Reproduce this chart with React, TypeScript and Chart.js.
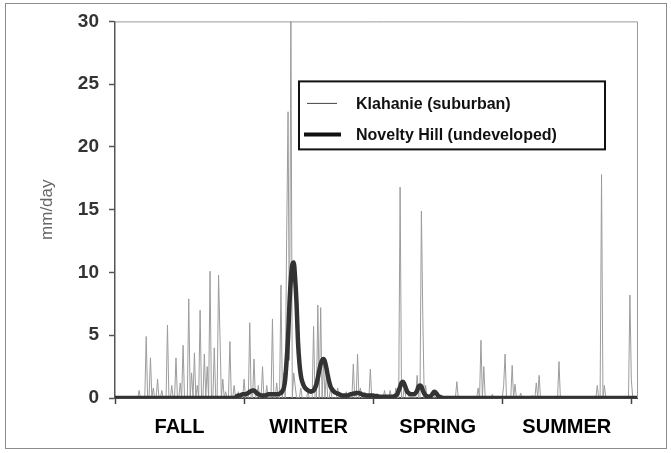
import React, { useEffect, useRef } from 'react';
import { Chart, registerables } from 'chart.js';

Chart.register(...registerables);

// ---- data -------------------------------------------------------------
const SEASONS = ['FALL', 'WINTER', 'SPRING', 'SUMMER'];
const QUARTER_DAYS = 91;
const X_MAX = 368;
const Y_MAX = 30;
const Y_STEP = 5;
const SERIES_NAMES = ['Klahanie (suburban)', 'Novelty Hill (undeveloped)'];

// daily runoff, mm/day (day 0 = start of fall)
const KLAHANIE = [
  0, 0, 0, 0, 0, 0, 0, 0, 0, 0,
  0, 0, 0, 0, 0, 0, 0, 0.6, 0, 0,
  0, 0, 4.9, 0, 0, 3.2, 0, 0.8, 0, 0,
  1.5, 0, 0, 0.6, 0, 0, 0, 5.8, 0, 0,
  1.0, 0, 0, 3.2, 0, 0, 1.2, 0, 4.2, 0,
  0, 0, 7.9, 0, 2.0, 0, 3.6, 0, 1.0, 0,
  7.0, 0, 0, 3.5, 0, 2.5, 0, 10.1, 0, 0,
  4.0, 0, 0, 9.8, 5.0, 0, 1.5, 0, 0.5, 0,
  0, 4.5, 0, 0, 1.0, 0, 0, 0.5, 0, 0,
  0, 1.5, 0, 0.4, 0, 6.0, 0, 0, 3.1, 0,
  0, 1.0, 0, 0, 2.5, 0, 0, 1.0, 0, 0,
  0, 6.3, 0, 0, 1.2, 0, 0, 9.0, 0, 2.0,
  0, 12.6, 22.8, 3.0, 31, 0, 2.0, 1.0, 0, 0,
  0, 0.8, 0, 0, 0, 0, 0.5, 0, 0, 0,
  5.7, 0, 0, 7.4, 0, 7.2, 0, 3.0, 0, 2.0,
  0, 0, 0.8, 0, 0, 0, 0, 0.8, 0, 0,
  0, 0, 0, 0.5, 0, 0, 0, 0, 2.7, 0,
  0, 3.5, 0, 0.8, 0, 0, 0, 0, 0, 0,
  2.3, 0, 0, 0, 0, 0, 0, 0, 0, 0,
  0.6, 0, 0, 0, 0.6, 0, 0, 0, 0.8, 0,
  0, 16.8, 0, 0, 1.0, 0, 0, 0, 0, 0,
  0, 0, 0, 1.8, 0, 0, 14.9, 6.5, 0, 1.0,
  0, 0, 0, 0, 0, 0, 0.5, 0, 0, 0,
  0, 0, 0, 0, 0, 0, 0, 0, 0, 0,
  0, 1.3, 0, 0, 0, 0, 0, 0, 0, 0,
  0, 0, 0, 0, 0, 0, 0.8, 0, 4.6, 0,
  2.5, 0, 0, 0, 0, 0, 0.3, 0, 0, 0,
  0, 0, 0, 0, 1.0, 3.5, 0, 0, 0, 0,
  2.6, 0, 1.1, 0, 0, 0, 0.4, 0, 0, 0,
  0, 0, 0, 0, 0.2, 0, 0, 1.2, 0, 1.8,
  0, 0, 0, 0, 0, 0, 0, 0, 0, 0,
  0, 0, 0, 2.9, 0, 0, 0, 0, 0, 0,
  0, 0, 0, 0, 0, 0, 0, 0, 0, 0,
  0, 0, 0, 0, 0, 0, 0, 0, 0, 0,
  1.0, 0, 0, 17.8, 0, 1.0, 0, 0, 0, 0,
  0, 0, 0, 0, 0, 0, 0, 0, 0, 0,
  0, 0, 0, 8.2, 1.5, 0, 0, 0, 0,
];

const NOVELTY_HILL = [
  0, 0, 0, 0, 0, 0, 0, 0, 0, 0,
  0, 0, 0, 0, 0, 0, 0, 0, 0, 0,
  0, 0, 0, 0, 0, 0, 0, 0, 0, 0,
  0, 0, 0, 0, 0, 0, 0, 0, 0, 0,
  0, 0, 0, 0, 0, 0, 0, 0, 0, 0,
  0, 0, 0, 0, 0, 0, 0, 0, 0, 0,
  0, 0, 0, 0, 0, 0, 0, 0, 0, 0,
  0, 0, 0, 0, 0, 0, 0, 0, 0, 0,
  0, 0, 0, 0, 0, 0.05, 0.15, 0.2, 0.2, 0.25,
  0.3, 0.3, 0.3, 0.35, 0.4, 0.5, 0.55, 0.6, 0.6, 0.5,
  0.4, 0.3, 0.25, 0.2, 0.2, 0.2, 0.2, 0.25, 0.3, 0.3,
  0.3, 0.3, 0.3, 0.3, 0.3, 0.3, 0.35, 0.4, 0.55, 0.8,
  1.5, 3.0, 4.8, 7.5, 9.5, 10.6, 10.8, 9.5, 7.5, 4.5,
  2.8, 1.8, 1.3, 1.0, 0.8, 0.7, 0.6, 0.55, 0.5, 0.55,
  0.6, 0.8, 1.1, 1.6, 2.2, 2.7, 3.0, 3.1, 2.9, 2.4,
  1.8, 1.3, 0.9, 0.7, 0.55, 0.45, 0.4, 0.35, 0.3, 0.25,
  0.2, 0.2, 0.2, 0.2, 0.2, 0.25, 0.3, 0.3, 0.35, 0.35,
  0.4, 0.4, 0.4, 0.35, 0.3, 0.25, 0.25, 0.2, 0.2, 0.2,
  0.2, 0.2, 0.2, 0.15, 0.15, 0.15, 0.1, 0.1, 0.1, 0.1,
  0.1, 0.1, 0.1, 0.1, 0.1, 0.1, 0.1, 0.15, 0.2, 0.3,
  0.6, 0.9, 1.2, 1.3, 1.1, 0.8, 0.5, 0.4, 0.3, 0.3,
  0.3, 0.3, 0.4, 0.6, 0.9, 1.0, 0.9, 0.6, 0.35, 0.2,
  0.15, 0.1, 0.1, 0.2, 0.35, 0.5, 0.45, 0.3, 0.15, 0.1,
  0.05, 0, 0, 0, 0, 0, 0, 0, 0, 0,
  0, 0, 0, 0, 0, 0, 0, 0, 0, 0,
  0, 0, 0, 0, 0, 0, 0, 0, 0, 0,
  0, 0, 0, 0, 0, 0, 0, 0, 0, 0,
  0, 0, 0, 0, 0, 0, 0, 0, 0, 0,
  0, 0, 0, 0, 0, 0, 0, 0, 0, 0,
  0, 0, 0, 0, 0, 0, 0, 0, 0, 0,
  0, 0, 0, 0, 0, 0, 0, 0, 0, 0,
  0, 0, 0, 0, 0, 0, 0, 0, 0, 0,
  0, 0, 0, 0, 0, 0, 0, 0, 0, 0,
  0, 0, 0, 0, 0, 0, 0, 0, 0, 0,
  0, 0, 0, 0, 0, 0, 0, 0, 0, 0,
  0, 0, 0, 0, 0, 0, 0, 0, 0, 0,
  0, 0, 0, 0, 0, 0, 0, 0, 0,
];

// ---- styles -------------------------------------------------------------
const FONT = '"Liberation Sans", Arial, Helvetica, sans-serif';
const KLAHANIE_COLOR = '#9c9c9c';
const NOVELTY_COLOR = '#333333';

const toPoints = (arr: number[]) => arr.map((v, i) => ({ x: i, y: v }));

const framePlugin = {
  id: 'frameAndLegend',
  beforeDraw(chart: any) {
    const ctx = chart.ctx;
    ctx.save();
    ctx.fillStyle = '#ffffff';
    ctx.fillRect(0, 0, chart.width, chart.height);
    ctx.strokeStyle = '#8c8c8c';
    ctx.lineWidth = 1;
    ctx.strokeRect(5.5, 3.5, chart.width - 10, chart.height - 8);
    ctx.restore();
  },
  afterDatasetsDraw(chart: any) {
    const { ctx, chartArea: a } = chart;
    ctx.save();
    // top and right plot border
    ctx.strokeStyle = '#9a9a9a';
    ctx.lineWidth = 1;
    ctx.beginPath();
    ctx.moveTo(a.left, a.top + 0.5);
    ctx.lineTo(a.right + 0.5, a.top + 0.5);
    ctx.lineTo(a.right + 0.5, a.bottom);
    ctx.stroke();

    // legend box
    const bx = a.left + 184;
    const by = a.top + 60;
    const bw = 306;
    const bh = 68;
    ctx.fillStyle = '#ffffff';
    ctx.fillRect(bx, by, bw, bh);
    ctx.strokeStyle = '#111111';
    ctx.lineWidth = 2;
    ctx.strokeRect(bx, by, bw, bh);

    const rows = [
      { y: by + 22, x0: bx + 8, x1: bx + 38, w: 1, c: '#444444' },
      { y: by + 53, x0: bx + 5, x1: bx + 42, w: 4, c: '#111111' },
    ];
    rows.forEach((r, i) => {
      ctx.strokeStyle = r.c;
      ctx.lineWidth = r.w;
      ctx.beginPath();
      ctx.moveTo(r.x0, r.y);
      ctx.lineTo(r.x1, r.y);
      ctx.stroke();
      ctx.fillStyle = '#111111';
      ctx.font = `bold 16px ${FONT}`;
      ctx.textBaseline = 'middle';
      ctx.textAlign = 'left';
      ctx.fillText(chart.data.datasets[i].label, bx + 57, r.y + 1);
    });
    ctx.restore();
  },
};

export default function App() {
  const ref = useRef<HTMLCanvasElement | null>(null);

  useEffect(() => {
    if (!ref.current) return;
    const xTicks: number[] = [];
    for (let q = 0; q < SEASONS.length; q++) {
      xTicks.push(q * QUARTER_DAYS, q * QUARTER_DAYS + QUARTER_DAYS / 2);
    }
    xTicks.push(SEASONS.length * QUARTER_DAYS);

    const chart = new Chart(ref.current, {
      type: 'line',
      data: {
        datasets: [
          {
            label: SERIES_NAMES[0],
            data: toPoints(KLAHANIE),
            borderColor: KLAHANIE_COLOR,
            borderWidth: 1,
            pointRadius: 0,
            tension: 0,
            fill: false,
            order: 2,
          },
          {
            label: SERIES_NAMES[1],
            data: toPoints(NOVELTY_HILL),
            borderColor: NOVELTY_COLOR,
            borderWidth: 4.5,
            pointRadius: 0,
            cubicInterpolationMode: 'monotone',
            fill: false,
            order: 1,
          },
        ],
      },
      options: {
        responsive: false,
        animation: false,
        devicePixelRatio: 1,
        layout: { padding: { left: 0, right: 34, top: 20, bottom: 0 } },
        plugins: {
          legend: { display: false },
          tooltip: { enabled: false },
        },
        scales: {
          x: {
            type: 'linear',
            min: 0,
            max: X_MAX,
            afterBuildTicks: (scale: any) => {
              scale.ticks = xTicks.map((v) => ({ value: v }));
            },
            afterFit: (scale: any) => {
              scale.height = 55;
            },
            grid: {
              drawOnChartArea: false,
              drawTicks: true,
              tickLength: 6,
              tickColor: (ctx: any) =>
                ctx.tick && ctx.tick.value % QUARTER_DAYS === 0 ? '#444444' : 'rgba(0,0,0,0)',
              tickWidth: 1.5,
            },
            border: { display: true, color: '#444444', width: 2 },
            ticks: {
              autoSkip: false,
              maxRotation: 0,
              padding: 11,
              color: '#000000',
              font: { family: FONT, size: 20, weight: 'bold' },
              callback: (value: any) => {
                const v = Number(value);
                if (v % QUARTER_DAYS === 0) return '';
                return SEASONS[Math.floor(v / QUARTER_DAYS)] ?? '';
              },
            },
          },
          y: {
            min: 0,
            max: Y_MAX,
            afterFit: (scale: any) => {
              scale.width = 115;
            },
            grid: {
              drawOnChartArea: false,
              drawTicks: true,
              tickLength: 6,
              tickColor: '#555555',
              tickWidth: 1.5,
            },
            border: { display: true, color: '#555555', width: 1.5 },
            ticks: {
              stepSize: Y_STEP,
              padding: 10,
              color: '#333333',
              font: { family: FONT, size: 19, weight: 'bold' },
            },
            title: {
              display: true,
              text: 'mm/day',
              color: '#666666',
              font: { family: FONT, size: 17, weight: 'normal' },
              padding: { top: 37, bottom: 0 },
            },
          },
        },
      },
      plugins: [framePlugin],
    } as any);

    return () => chart.destroy();
  }, []);

  return (
    <div style={{ position: 'fixed', left: 0, top: 0, width: 671, height: 453, background: '#fff' }}>
      <canvas ref={ref} width={671} height={453} style={{ display: 'block' }} />
    </div>
  );
}
